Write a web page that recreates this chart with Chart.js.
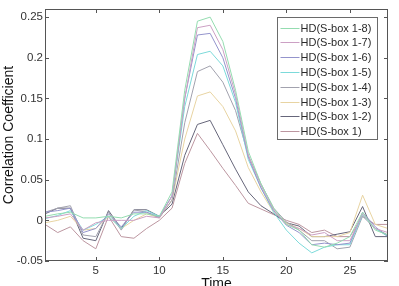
<!DOCTYPE html>
<html lang="en">
<head>
<meta charset="UTF-8">
<title>Correlation Coefficient vs Time</title>
<script src="https://cdn.jsdelivr.net/npm/chart.js"></script>
<style>
    body { margin: 0; background: #fff; }
    canvas { display: block; }
</style>
</head>
<body>
<canvas id="corrChart" width="399" height="286"></canvas>
<script>
    // time samples
    const time = [1, 2, 3, 4, 5, 6, 7, 8, 9, 10, 11, 12, 13, 14, 15, 16, 17, 18, 19, 20, 21, 22, 23, 24, 25, 26, 27, 28];

    // series values
    const hd18 = [0.005, 0.008, 0.010, 0.003, 0.003, 0.005, 0.003, 0.008, 0.008, 0.005, 0.035, 0.16, 0.245, 0.25, 0.22, 0.16, 0.085, 0.045, 0.015, -0.005, -0.012, -0.03, -0.033, -0.028, -0.02, 0.01, -0.012, -0.018];
    const hd17 = [0.003, 0.005, 0.008, -0.012, -0.003, 0.0, 0.0, 0.0, 0.005, 0.003, 0.03, 0.15, 0.237, 0.24, 0.21, 0.155, 0.08, 0.043, 0.013, -0.005, -0.01, -0.018, -0.015, -0.025, -0.025, 0.008, -0.01, -0.015];
    const hd16 = [0.01, 0.012, 0.015, -0.015, -0.01, 0.008, -0.008, 0.01, 0.01, 0.004, 0.03, 0.15, 0.228, 0.23, 0.2, 0.15, 0.078, 0.04, 0.012, -0.006, -0.015, -0.03, -0.028, -0.03, -0.028, 0.01, -0.008, -0.02];
    const hd15 = [0.002, 0.006, 0.012, -0.012, -0.005, 0.005, -0.01, 0.005, 0.012, 0.005, 0.03, 0.14, 0.204, 0.208, 0.19, 0.145, 0.075, 0.04, 0.01, -0.012, -0.028, -0.04, -0.033, -0.03, -0.03, 0.007, -0.01, -0.02];
    const hd14 = [0.01, 0.015, 0.018, -0.018, -0.02, 0.01, -0.012, 0.013, 0.01, 0.003, 0.025, 0.12, 0.183, 0.19, 0.17, 0.135, 0.08, 0.045, 0.015, -0.002, -0.012, -0.025, -0.025, -0.035, -0.033, 0.005, -0.01, -0.018];
    const hd13 = [-0.003, 0.0, 0.005, -0.012, -0.01, 0.005, -0.01, 0.0, 0.008, 0.003, 0.025, 0.1, 0.153, 0.158, 0.14, 0.11, 0.065, 0.035, 0.01, -0.003, -0.01, -0.02, -0.02, -0.02, -0.015, 0.031, -0.005, -0.01];
    const hd12 = [0.008, 0.015, 0.015, -0.022, -0.025, 0.012, -0.01, 0.013, 0.013, 0.005, 0.02, 0.08, 0.118, 0.123, 0.093, 0.063, 0.035, 0.018, 0.008, -0.003, -0.007, -0.02, -0.02, -0.017, -0.014, 0.017, -0.02, -0.02];
    const hd1 = [-0.005, -0.015, -0.008, -0.025, -0.035, 0.005, -0.02, -0.022, -0.01, 0.0, 0.015, 0.07, 0.107, 0.086, 0.064, 0.043, 0.021, 0.014, 0.007, 0.0, -0.005, -0.015, -0.012, -0.02, -0.02, 0.005, -0.005, -0.005];

    const seriesLabels = ['HD(S-box 1-8)', 'HD(S-box 1-7)', 'HD(S-box 1-6)', 'HD(S-box 1-5)',
                          'HD(S-box 1-4)', 'HD(S-box 1-3)', 'HD(S-box 1-2)', 'HD(S-box 1)'];
    const seriesValues = [hd18, hd17, hd16, hd15, hd14, hd13, hd12, hd1];
    const seriesColors = ['#94dcb0', '#cca0c4', '#9494cc', '#7cdada', '#a2a2ae', '#e8d4a2', '#66667a', '#bc96a0'];

    const xTicks = [5, 10, 15, 20, 25];
    const yTicks = [-0.05, 0, 0.05, 0.1, 0.15, 0.2, 0.25];

    const axisColor = '#555';
    const fontFamily = 'Arial, "Liberation Sans", sans-serif';

    // box, inward tick marks and legend (MATLAB style)
    const boxPlugin = {
        id: 'boxPlugin',
        afterDraw(chart) {
            const ctx = chart.ctx;
            const a = chart.chartArea;
            const xs = chart.scales.x, ys = chart.scales.y;
            ctx.save();
            ctx.strokeStyle = axisColor;
            ctx.lineWidth = 1;
            ctx.strokeRect(a.left + 0.5, a.top + 0.5, a.right - a.left - 1, a.bottom - a.top - 1);
            ctx.beginPath();
            xTicks.forEach(v => {
                const px = Math.round(xs.getPixelForValue(v)) + 0.5;
                ctx.moveTo(px, a.bottom); ctx.lineTo(px, a.bottom - 4);
                ctx.moveTo(px, a.top); ctx.lineTo(px, a.top + 4);
            });
            yTicks.forEach(v => {
                const py = Math.round(ys.getPixelForValue(v)) + 0.5;
                ctx.moveTo(a.left, py); ctx.lineTo(a.left + 4, py);
                ctx.moveTo(a.right, py); ctx.lineTo(a.right - 4, py);
            });
            ctx.stroke();

            // legend
            const lx = 277.5, ly = 17.5, lw = 100, lh = 122, rowH = 14.8;
            ctx.fillStyle = '#fff';
            ctx.fillRect(lx, ly, lw, lh);
            ctx.strokeStyle = '#6a6a6a';
            ctx.strokeRect(lx, ly, lw, lh);
            ctx.font = '11px ' + fontFamily;
            ctx.textBaseline = 'middle';
            ctx.textAlign = 'left';
            chart.data.datasets.forEach((ds, i) => {
                const cy = Math.round(ly + 10 + i * rowH) + 0.5;
                ctx.strokeStyle = ds.borderColor;
                ctx.beginPath();
                ctx.moveTo(lx + 3, cy); ctx.lineTo(lx + 22, cy);
                ctx.stroke();
                ctx.fillStyle = '#2a2a2a';
                ctx.fillText(ds.label, lx + 23, cy);
            });
            ctx.restore();
        }
    };

    const ctx = document.getElementById('corrChart').getContext('2d');
    new Chart(ctx, {
        type: 'line',
        data: {
            datasets: seriesLabels.map((label, i) => ({
                label: label,
                data: time.map((t, j) => ({ x: t, y: seriesValues[i][j] })),
                borderColor: seriesColors[i],
                borderWidth: 1,
                pointRadius: 0,
                tension: 0,
                fill: false
            }))
        },
        options: {
            responsive: false,
            animation: false,
            layout: { padding: { top: 9, right: 11, left: 0, bottom: 0 } },
            plugins: {
                legend: { display: false },
                tooltip: { enabled: false }
            },
            scales: {
                x: {
                    type: 'linear',
                    min: 1,
                    max: 28,
                    grid: { display: false, drawTicks: false },
                    border: { display: false },
                    afterBuildTicks: scale => { scale.ticks = xTicks.map(v => ({ value: v })); },
                    afterFit: scale => { scale.height = 25; },
                    ticks: {
                        padding: 3,
                        color: '#333',
                        font: { family: fontFamily, size: 11.5 },
                        maxRotation: 0
                    },
                    title: {
                        display: true,
                        text: 'Time',
                        color: '#111',
                        font: { family: fontFamily, size: 14 },
                        padding: { top: 0, bottom: -7 }
                    }
                },
                y: {
                    min: -0.05,
                    max: 0.26,
                    grid: { display: false, drawTicks: false },
                    border: { display: false },
                    afterBuildTicks: scale => { scale.ticks = yTicks.map(v => ({ value: v })); },
                    afterFit: scale => { scale.width = 45; },
                    ticks: {
                        padding: 2,
                        color: '#333',
                        font: { family: fontFamily, size: 11.5 },
                        callback: v => String(+v.toFixed(2))
                    },
                    title: {
                        display: true,
                        text: 'Correlation Coefficient',
                        color: '#111',
                        font: { family: fontFamily, size: 14 },
                        padding: { top: 1, bottom: 0 }
                    }
                }
            }
        },
        plugins: [boxPlugin]
    });
</script>
</body>
</html>
